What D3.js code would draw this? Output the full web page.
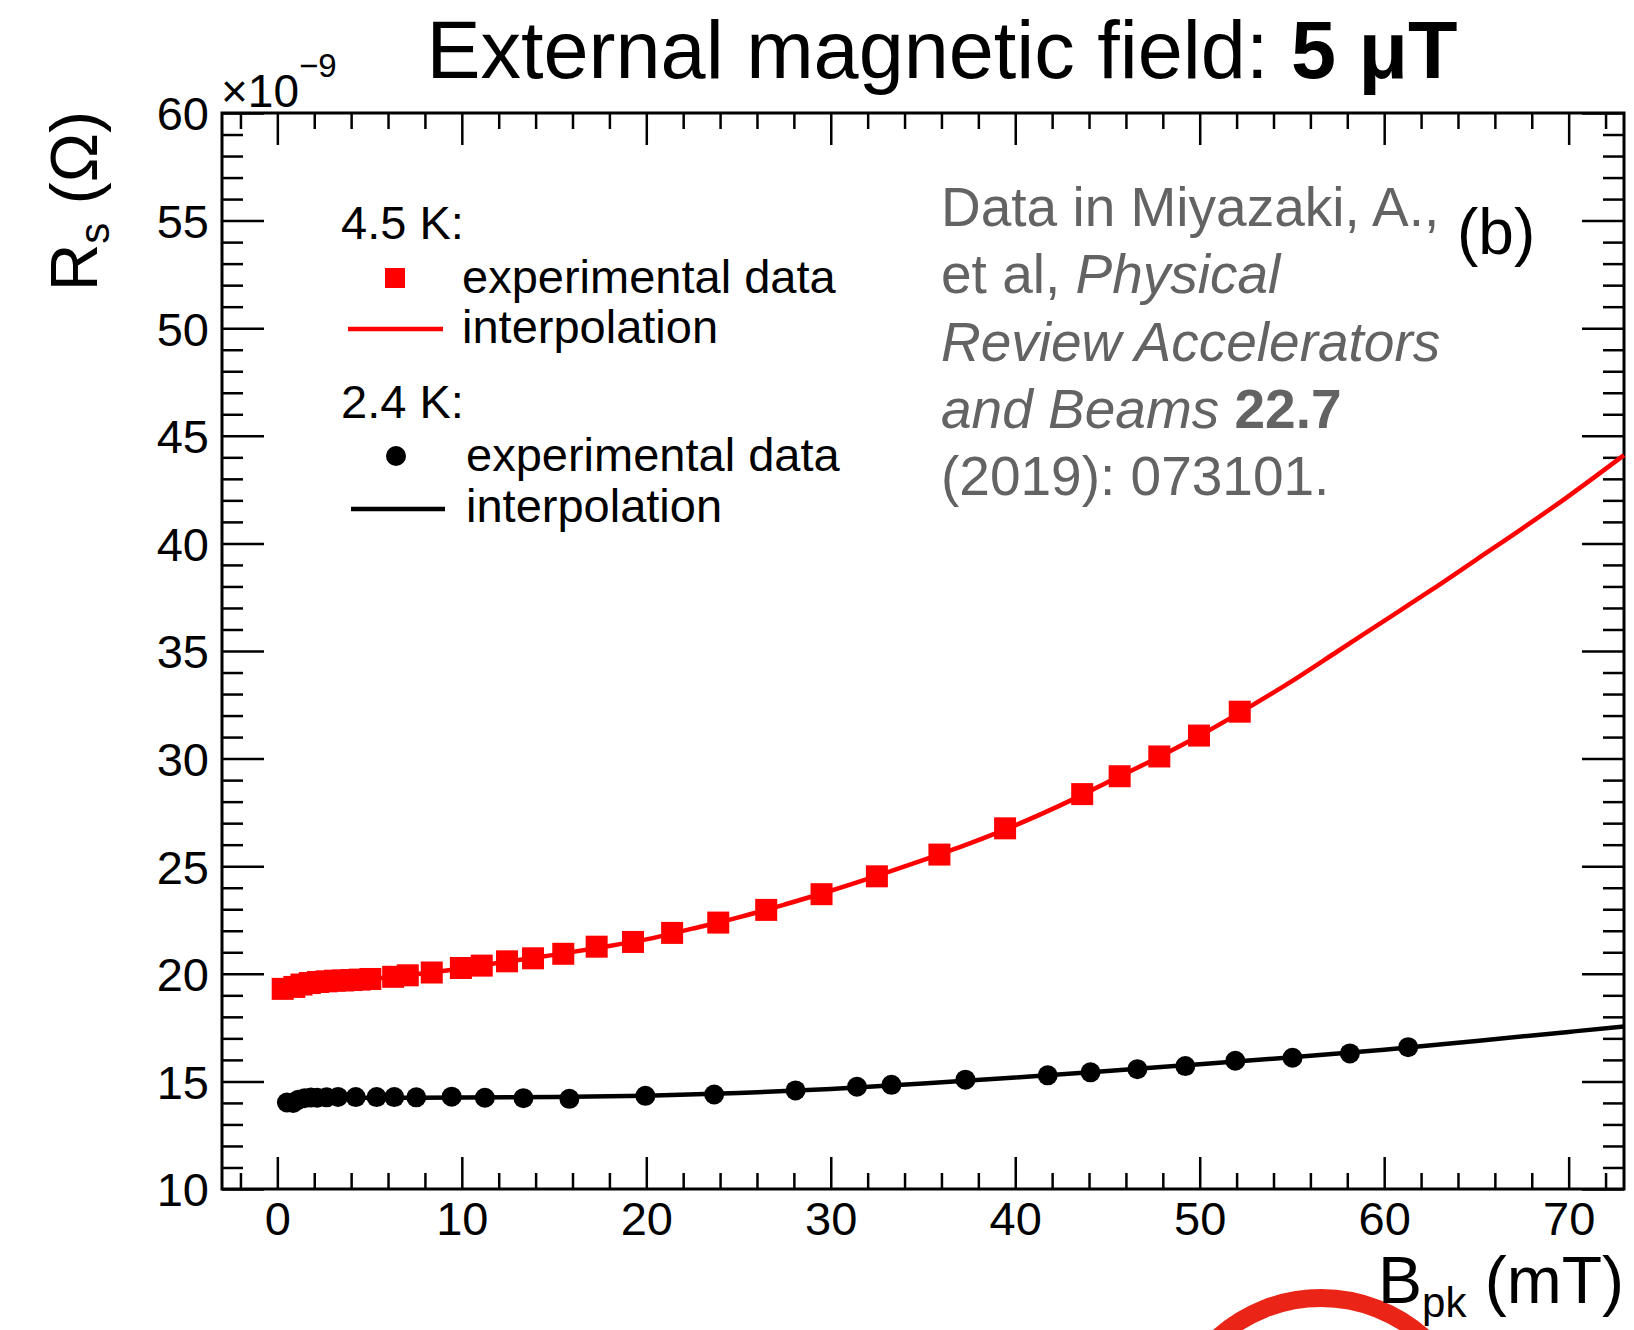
<!DOCTYPE html>
<html>
<head>
<meta charset="utf-8">
<script src="https://cdn.jsdelivr.net/npm/d3@7"></script>
<style>
  html, body { margin: 0; padding: 0; background: #fff; }
  svg { display: block; }
  text { font-family: "Liberation Sans", Arial, Helvetica, sans-serif; }
</style>
</head>
<body>
<script>
// Surface resistance vs. peak magnetic field, two bath temperatures
const xMajorTicks = [0, 10, 20, 30, 40, 50, 60, 70];
const yMajorTicks = [10, 15, 20, 25, 30, 35, 40, 45, 50, 55, 60];

// 4.5 K measurements (R_s in units of 1e-9 Ohm)
const red45X = [0.29, 0.92, 1.31, 1.76, 2.21, 2.67, 3.12, 3.57, 4.02, 4.47, 5.04, 6.28, 7.07, 8.37, 9.95, 11.08, 12.45, 13.86, 15.5, 17.31, 19.28, 21.4, 23.9, 26.5, 29.5, 32.5, 35.89, 39.45, 43.63, 45.66, 47.81, 49.96, 52.17];
const red45Y = [19.30, 19.39, 19.50, 19.57, 19.62, 19.65, 19.68, 19.69, 19.71, 19.73, 19.76, 19.86, 19.93, 20.06, 20.27, 20.38, 20.58, 20.72, 20.93, 21.26, 21.48, 21.90, 22.38, 22.97, 23.70, 24.53, 25.54, 26.76, 28.35, 29.18, 30.10, 31.07, 32.18];

// 4.5 K interpolation curve
const fit45X = [0.3, 1, 2, 3, 5, 7.5, 10, 12.5, 15, 17.5, 20, 22.5, 25, 27.5, 30, 32.5, 35, 37.5, 40, 42.5, 45, 47.5, 50, 52.5, 55, 57.5, 60, 62.5, 65, 67.5, 70, 73];
const fit45Y = [19.3, 19.45, 19.58, 19.65, 19.76, 19.98, 20.25, 20.57, 20.88, 21.22, 21.6, 22.1, 22.62, 23.22, 23.86, 24.55, 25.28, 26.05, 26.9, 27.85, 28.9, 29.95, 31.07, 32.3, 33.6, 35.0, 36.4, 37.8, 39.25, 40.7, 42.2, 44.1];

// 2.4 K measurements
const black24X = [0.52, 0.86, 1.14, 1.48, 1.82, 2.16, 2.67, 3.29, 4.25, 5.38, 6.34, 7.53, 9.45, 11.25, 13.34, 15.83, 19.95, 23.68, 28.09, 31.42, 33.29, 37.30, 41.76, 44.08, 46.62, 49.22, 51.93, 55.03, 58.14, 61.30];
const black24Y = [14.02, 14.00, 14.15, 14.22, 14.25, 14.24, 14.26, 14.28, 14.27, 14.27, 14.27, 14.26, 14.29, 14.24, 14.22, 14.19, 14.33, 14.39, 14.58, 14.75, 14.84, 15.08, 15.28, 15.42, 15.57, 15.71, 15.96, 16.10, 16.30, 16.59];

// 2.4 K interpolation curve
const fit24X = [0.5, 2, 5, 10, 15, 20, 25, 30, 35, 40, 45, 50, 55, 60, 65, 70, 73];
const fit24Y = [14.05, 14.18, 14.24, 14.25, 14.27, 14.33, 14.46, 14.65, 14.9, 15.18, 15.48, 15.8, 16.12, 16.47, 16.88, 17.3, 17.55];

const legendHeaders = ["4.5 K:", "2.4 K:"];
const legendLabels = ["experimental data", "interpolation"];

const W = 1634, H = 1330;
const frame = { left: 222, right: 1624, top: 113, bottom: 1189 };

const svg = d3.select("body").append("svg")
  .attr("width", W).attr("height", H)
  .attr("viewBox", `0 0 ${W} ${H}`);

svg.append("rect").attr("width", W).attr("height", H).attr("fill", "#fff");

const x = d3.scaleLinear().domain([-3, 73]).range([frame.left, frame.right]);
const y = d3.scaleLinear().domain([10, 60]).range([frame.bottom, frame.top]);

const xMinor = d3.range(-2, 73, 2).filter(v => v % 10 !== 0);
const yMinor = d3.range(11, 60, 1).filter(v => v % 5 !== 0);

function styleAxis(g) {
  g.select(".domain").remove();
  g.selectAll(".tick line").attr("stroke", "#000").attr("stroke-width", 2.5);
  g.selectAll(".tick text").attr("fill", "#000")
    .style("font-family", '"Liberation Sans", Arial, sans-serif');
}

// bottom axis
svg.append("g").attr("transform", `translate(0,${frame.bottom})`)
  .call(d3.axisBottom(x).tickValues(xMinor).tickSize(-16).tickFormat(""))
  .call(styleAxis);
svg.append("g").attr("transform", `translate(0,${frame.bottom})`)
  .call(d3.axisBottom(x).tickValues(xMajorTicks).tickSize(-32).tickPadding(13).tickFormat(d3.format("d")))
  .call(styleAxis)
  .call(g => g.selectAll(".tick text").attr("font-size", 47));
// top axis (mirrored ticks)
svg.append("g").attr("transform", `translate(0,${frame.top})`)
  .call(d3.axisTop(x).tickValues(xMinor).tickSize(-16).tickFormat(""))
  .call(styleAxis);
svg.append("g").attr("transform", `translate(0,${frame.top})`)
  .call(d3.axisTop(x).tickValues(xMajorTicks).tickSize(-32).tickFormat(""))
  .call(styleAxis);

// left axis
svg.append("g").attr("transform", `translate(${frame.left},0)`)
  .call(d3.axisLeft(y).tickValues(yMinor).tickSize(-21).tickFormat(""))
  .call(styleAxis);
svg.append("g").attr("transform", `translate(${frame.left},0)`)
  .call(d3.axisLeft(y).tickValues(yMajorTicks).tickSize(-42).tickPadding(13).tickFormat(d3.format("d")))
  .call(styleAxis)
  .call(g => g.selectAll(".tick text").attr("font-size", 47).attr("dy", "0.36em"));
// right axis (mirrored ticks)
svg.append("g").attr("transform", `translate(${frame.right},0)`)
  .call(d3.axisRight(y).tickValues(yMinor).tickSize(-21).tickFormat(""))
  .call(styleAxis);
svg.append("g").attr("transform", `translate(${frame.right},0)`)
  .call(d3.axisRight(y).tickValues(yMajorTicks).tickSize(-42).tickFormat(""))
  .call(styleAxis);

// frame
svg.append("rect")
  .attr("x", frame.left).attr("y", frame.top)
  .attr("width", frame.right - frame.left).attr("height", frame.bottom - frame.top)
  .attr("fill", "none").attr("stroke", "#000").attr("stroke-width", 3);

// interpolation curves
const line = d3.line().x(d => x(d[0])).y(d => y(d[1])).curve(d3.curveMonotoneX);
svg.append("path").datum(fit45X.map((v, i) => [v, fit45Y[i]]))
  .attr("d", line).attr("fill", "none").attr("stroke", "#ff0000").attr("stroke-width", 4.5);
svg.append("path").datum(fit24X.map((v, i) => [v, fit24Y[i]]))
  .attr("d", line).attr("fill", "none").attr("stroke", "#000").attr("stroke-width", 4.5);

// markers
const sq = 22;
svg.append("g").selectAll("rect").data(red45X.map((v, i) => [v, red45Y[i]]))
  .join("rect")
  .attr("x", d => x(d[0]) - sq / 2).attr("y", d => y(d[1]) - sq / 2)
  .attr("width", sq).attr("height", sq).attr("fill", "#ff0000");
svg.append("g").selectAll("circle").data(black24X.map((v, i) => [v, black24Y[i]]))
  .join("circle")
  .attr("cx", d => x(d[0])).attr("cy", d => y(d[1])).attr("r", 10).attr("fill", "#000");

// exponent label
const expo = svg.append("text").attr("x", 221).attr("y", 107).attr("font-size", 46).attr("fill", "#000");
expo.append("tspan").text("×10");
expo.append("tspan").attr("dy", -30).attr("font-size", 33).text("−9");

// title
const title = svg.append("text").attr("x", 942).attr("y", 78)
  .attr("text-anchor", "middle").attr("font-size", 81).attr("fill", "#000");
title.append("tspan").text("External magnetic field: ");
title.append("tspan").attr("font-weight", "bold").text("5 μT");

// y axis title
const yt = svg.append("text").attr("transform", "translate(97,111) rotate(-90)")
  .attr("text-anchor", "end").attr("font-size", 66).attr("fill", "#000");
yt.append("tspan").text("R");
yt.append("tspan").attr("font-size", 42).attr("dy", 12).text("s");
yt.append("tspan").attr("dy", -12).text(" (Ω)");

// highlight ring at the lower edge
svg.append("circle")
  .attr("cx", 1321).attr("cy", 1452).attr("r", 154)
  .attr("fill", "none").attr("stroke", "#ea2416").attr("stroke-width", 18);

// x axis title
const xt = svg.append("text").attr("x", frame.right).attr("y", 1303)
  .attr("text-anchor", "end").attr("font-size", 66).attr("fill", "#000");
xt.append("tspan").text("B");
xt.append("tspan").attr("font-size", 42).attr("dy", 14).text("pk");
xt.append("tspan").attr("dy", -14).text(" (mT)");

// legend
const lg = svg.append("g").attr("font-size", 47).attr("fill", "#000");
lg.append("text").attr("x", 341).attr("y", 239).text(legendHeaders[0]);
lg.append("rect").attr("x", 395 - 10).attr("y", 278 - 10).attr("width", 20).attr("height", 20).attr("fill", "#ff0000");
lg.append("text").attr("x", 462).attr("y", 293).text(legendLabels[0]);
lg.append("line").attr("x1", 348).attr("x2", 443).attr("y1", 329).attr("y2", 329)
  .attr("stroke", "#ff0000").attr("stroke-width", 4.5);
lg.append("text").attr("x", 462).attr("y", 343).text(legendLabels[1]);

lg.append("text").attr("x", 341).attr("y", 418).text(legendHeaders[1]);
lg.append("circle").attr("cx", 396).attr("cy", 456).attr("r", 10).attr("fill", "#000");
lg.append("text").attr("x", 466).attr("y", 471).text(legendLabels[0]);
lg.append("line").attr("x1", 351).attr("x2", 445).attr("y1", 509).attr("y2", 509)
  .attr("stroke", "#000").attr("stroke-width", 4.5);
lg.append("text").attr("x", 466).attr("y", 522).text(legendLabels[1]);

// reference note
const note = svg.append("g").attr("font-size", 55).attr("fill", "#636363");
const noteLines = [
  [["Data in Miyazaki, A.,", ""]],
  [["et al, ", ""], ["Physical", "italic"]],
  [["Review Accelerators", "italic"]],
  [["and Beams ", "italic"], ["22.7", "bold"]],
  [["(2019): 073101.", ""]]
];
noteLines.forEach((parts, i) => {
  const t = note.append("text").attr("x", 941).attr("y", 226 + i * 67.3);
  parts.forEach(([s, st]) => {
    const sp = t.append("tspan").text(s);
    if (st === "italic") sp.attr("font-style", "italic");
    if (st === "bold") sp.attr("font-weight", "bold");
  });
});

// panel label
svg.append("text").attr("x", 1457).attr("y", 254).attr("font-size", 64).attr("fill", "#000").text("(b)");
</script>
</body>
</html>
